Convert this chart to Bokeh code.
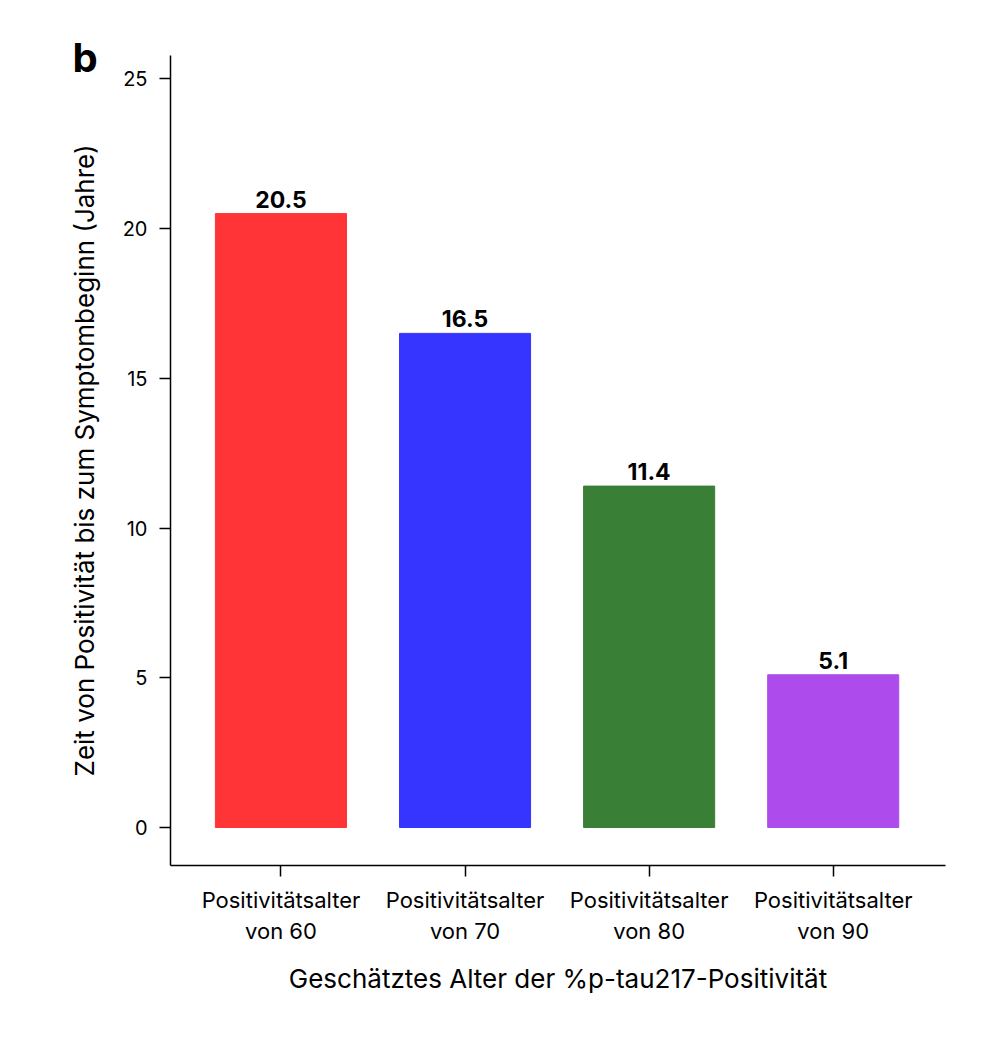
from bokeh.plotting import figure
from bokeh.models import Range1d, FixedTicker, ColumnDataSource, Title
from bokeh.core.properties import value
from bokeh.embed import file_html
from bokeh.resources import INLINE

categories = ["Positivitätsalter\nvon 60", "Positivitätsalter\nvon 70",
              "Positivitätsalter\nvon 80", "Positivitätsalter\nvon 90"]
years = [20.5, 16.5, 11.4, 5.1]
value_labels = ["20.5", "16.5", "11.4", "5.1"]
colors = ["#FF3436", "#3535FF", "#3A7F36", "#AD4BEC"]
y_ticks = [0, 5, 10, 15, 20, 25]
panel_letter = "b"

xs = list(range(1, len(categories) + 1))
src = ColumnDataSource(dict(x=xs, top=years, color=colors, lab=value_labels))

FONT = "Inter"

p = figure(width=1000, height=1030, output_backend="svg", toolbar_location=None,
           x_range=Range1d(0.4, 4.61), y_range=Range1d(-1.27, 25.78),
           min_border_left=170, min_border_right=55, min_border_top=55,
           min_border_bottom=165)
p.outline_line_color = None
p.grid.visible = False

p.vbar(x="x", top="top", bottom=0, width=0.712, color="color", source=src)
p.text(x="x", y="top", text="lab", source=src, text_align="center",
       text_baseline="bottom", y_offset=-6, text_font=value(FONT),
       text_font_style="bold", text_font_size="23px", text_color="black")

p.xaxis.ticker = FixedTicker(ticks=xs)
p.xaxis.major_label_overrides = {x: c for x, c in zip(xs, categories)}
p.yaxis.ticker = FixedTicker(ticks=y_ticks)
for ax in (p.xaxis, p.yaxis):
    ax.minor_tick_line_color = None
    ax.major_tick_in = 0
    ax.major_tick_out = 11
    ax.axis_line_width = 1.5
    ax.major_tick_line_width = 1.5
    ax.axis_line_color = "black"
    ax.major_tick_line_color = "black"
    ax.major_label_text_font = FONT
    ax.major_label_text_color = "black"
    ax.axis_label_text_font = FONT
    ax.axis_label_text_font_size = "26px"
    ax.axis_label_text_font_style = "normal"
    ax.axis_label_text_color = "black"

p.xaxis.major_label_text_font_size = "22px"
p.yaxis.major_label_text_font_size = "20px"
p.xaxis.axis_label = "Geschätztes Alter der %p-tau217-Positivität"
p.yaxis.axis_label = "Zeit von Positivität bis zum Symptombeginn (Jahre)"
p.xaxis.major_label_standoff = 10
p.xaxis.axis_label_standoff = 16
p.yaxis.major_label_standoff = 12
p.yaxis.axis_label_standoff = 20

p.add_layout(Title(text=panel_letter, align="left", offset=-98,
                   vertical_align="bottom", standoff=-52,
                   text_font=FONT, text_font_style="bold",
                   text_font_size="40px", text_color="black"), "above")

open("out.html", "w").write(file_html(p, INLINE))
